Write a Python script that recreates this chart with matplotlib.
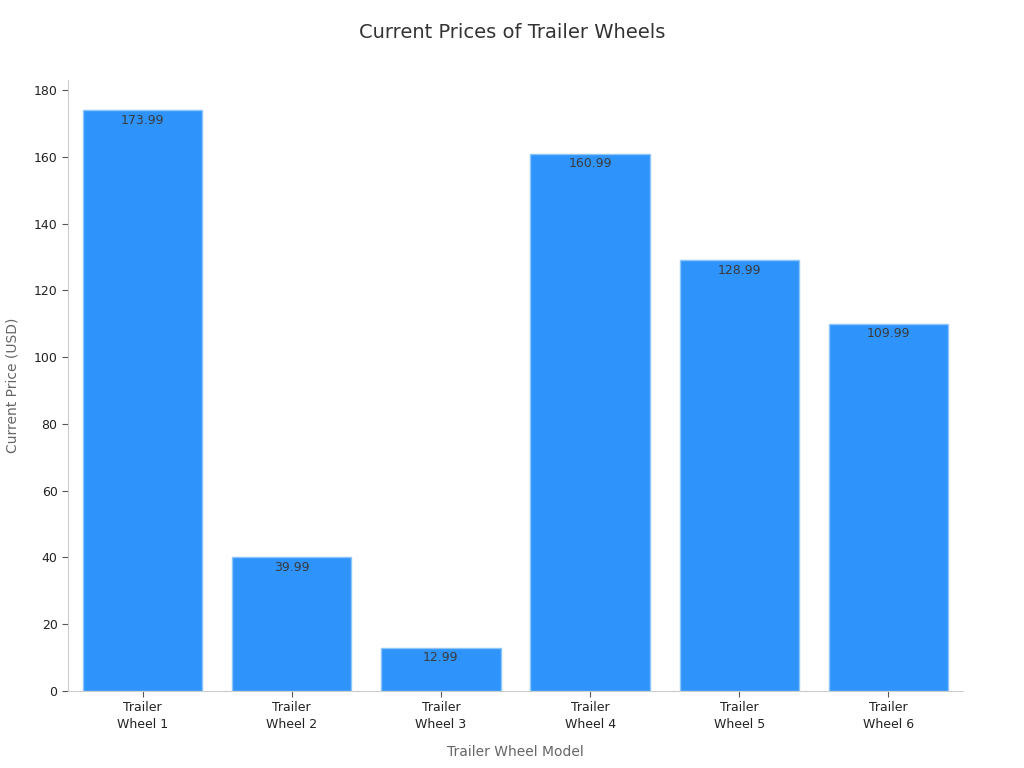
import matplotlib
matplotlib.use('Agg')
import matplotlib.pyplot as plt

# --- Data ---
models = ['Trailer\nWheel 1', 'Trailer\nWheel 2', 'Trailer\nWheel 3',
          'Trailer\nWheel 4', 'Trailer\nWheel 5', 'Trailer\nWheel 6']
prices = [173.99, 39.99, 12.99, 160.99, 128.99, 109.99]

BAR_COLOR = '#2E93FA'
EDGE_COLOR = '#8CC4FB'
SPINE_COLOR = '#CCCCCC'

fig = plt.figure(figsize=(10.24, 7.68), dpi=100)
ax = fig.add_axes([0.0664, 0.1003, 0.874, 0.7955])

x = range(len(models))
bars = ax.bar(x, prices, width=0.8, color=BAR_COLOR, edgecolor=EDGE_COLOR, linewidth=1)

for b, v in zip(bars, prices):
    ax.annotate(f'{v:.2f}', (b.get_x() + b.get_width() / 2, v),
                xytext=(0, -2.5), textcoords='offset points',
                ha='center', va='top', fontsize=9, color='#3a3a3a')

ax.set_xlim(-0.5, 5.5)
ax.set_ylim(0, 183)
ax.set_yticks(range(0, 181, 20))
ax.set_xticks(list(x))
ax.set_xticklabels(models, fontsize=9, color='#222222', linespacing=1.35)
ax.tick_params(axis='y', labelsize=9, labelcolor='#222222', color='#555555', length=4)
ax.tick_params(axis='x', color='#555555', length=4)

for side in ['top', 'right']:
    ax.spines[side].set_visible(False)
for side in ['left', 'bottom']:
    ax.spines[side].set_color(SPINE_COLOR)

ax.set_xlabel('Trailer Wheel Model', fontsize=10, color='#666666', labelpad=10)
ax.set_ylabel('Current Price (USD)', fontsize=10, color='#666666', labelpad=10)
fig.suptitle('Current Prices of Trailer Wheels', fontsize=14, color='#333333', y=0.97)

fig.savefig('out.png', dpi=100)
